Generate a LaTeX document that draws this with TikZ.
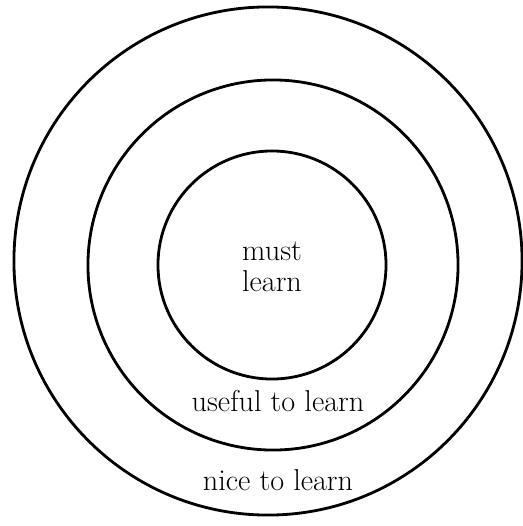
\documentclass[tikz,border=0pt]{standalone}
\usepackage{tikz}
\usetikzlibrary{positioning}
\tikzset{
  ring/.style={
    draw=black, circle, line width=2pt, inner sep=0pt, minimum size=#1
  },
  zonelab/.style={font=\fontsize{21.5}{22}\selectfont, align=center, inner sep=0pt}
}

\begin{document}
\begin{tikzpicture}[x=0.025cm,y=-0.025cm]
  \useasboundingbox (0,0) rectangle (523,526);
  \node[ring=12.7cm] (nice) at (268,261) {};
  \node[ring=9.25cm] (useful) at (273,265) {};
  \node[ring=5.7cm] (must) at (272,265) {};
  \node[zonelab] (mustlab) at (272,267) {must\\learn};
  \node[zonelab,anchor=base] (usefullab) at (278,411) {useful to learn};
  \node[zonelab,anchor=base] (nicelab) at (278,490) {nice to learn};
\end{tikzpicture}
\end{document}
